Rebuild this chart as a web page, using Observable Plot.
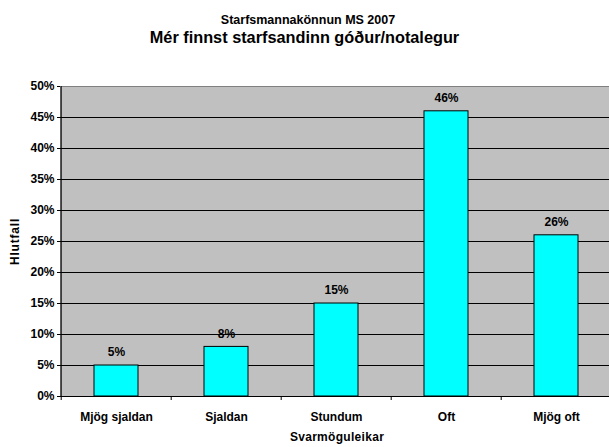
<!DOCTYPE html>
<html>
<head>
<meta charset="utf-8">
<script src="https://cdn.jsdelivr.net/npm/d3@7"></script>
<script src="https://cdn.jsdelivr.net/npm/@observablehq/plot@0.6"></script>
<style>
  html, body { margin: 0; padding: 0; background: #fff; }
  #wrap { width: 609px; height: 447px; overflow: hidden; position: relative; font-family: "Liberation Sans", Arial, sans-serif; }
  #t1 { position: absolute; top: 13px; left: 0; width: 609px; text-align: center; font-weight: bold; font-size: 12.5px; line-height: 14px; padding-left: 7px; box-sizing: border-box; }
  #t2 { position: absolute; top: 27.5px; left: 0; width: 609px; text-align: center; font-weight: bold; font-size: 16.3px; line-height: 18px; }
  #chart { position: absolute; top: 60px; left: 0; }
  g[aria-label="y-axis label"] text { letter-spacing: 0.8px; }
  g[aria-label="x-axis label"] text { letter-spacing: 0.3px; }
</style>
</head>
<body>
<div id="wrap">
  <div id="t1">Starfsmannakönnun MS 2007</div>
  <div id="t2">Mér finnst starfsandinn góður/notalegur</div>
  <div id="chart"></div>
</div>
<script>
const categories = ["Mjög sjaldan", "Sjaldan", "Stundum", "Oft", "Mjög oft"];
const values = [5, 8, 15, 46, 26];
const yTicks = [0, 5, 10, 15, 20, 25, 30, 35, 40, 45, 50];
const gridTicks = [5, 10, 15, 20, 25, 30, 35, 40, 45];

const data = categories.map((c, i) => ({category: c, value: values[i]}));

const W = 609, H = 387, mL = 60, mR = -4, mT = 26, mB = 51;
const step = (W - mR - mL) / categories.length;
const font = "'Liberation Sans', Arial, sans-serif";

const chart = Plot.plot({
  width: W,
  height: H,
  marginLeft: mL,
  marginRight: mR,
  marginTop: mT,
  marginBottom: mB,
  style: {fontFamily: font, fontSize: "12px", fontWeight: "bold", color: "#000", background: "transparent", overflow: "visible"},
  x: {domain: categories, paddingInner: 0.6, paddingOuter: 0.3, label: null},
  y: {domain: [0, 50], label: null},
  marks: [
    Plot.frame({fill: "#C0C0C0", stroke: "#808080"}),
    Plot.ruleY(gridTicks, {y: d => d, stroke: "#000", strokeWidth: 1}),
    Plot.barY(data, {x: "category", y: "value", fill: "#00FFFF", stroke: "#000", strokeWidth: 1}),
    Plot.text(data, {x: "category", y: "value", text: d => d.value + "%", dy: -13, fontSize: 12, fontWeight: "bold", fill: "#000"}),
    Plot.ruleX([categories[0]], {x: d => d, dx: -step / 2, stroke: "#000"}),
    Plot.ruleY([0], {stroke: "#000"}),
    Plot.ruleX(categories, {x: d => d, y1: 0, y2: 0, insetBottom: -4, dx: -step / 2, stroke: "#000"}),
    Plot.axisY({ticks: yTicks, tickFormat: d => d + "%", tickSize: 3, tickPadding: 3, fontSize: 12, fontWeight: "bold", label: "Hlutfall", labelAnchor: "center", labelArrow: "none", labelOffset: 50}),
    Plot.axisX({tickSize: 0, tickPadding: 16, fontSize: 12, fontWeight: "bold", label: "Svarmöguleikar", labelAnchor: "center", labelArrow: "none", labelOffset: 44})
  ]
});
document.getElementById("chart").appendChild(chart);
</script>
</body>
</html>
